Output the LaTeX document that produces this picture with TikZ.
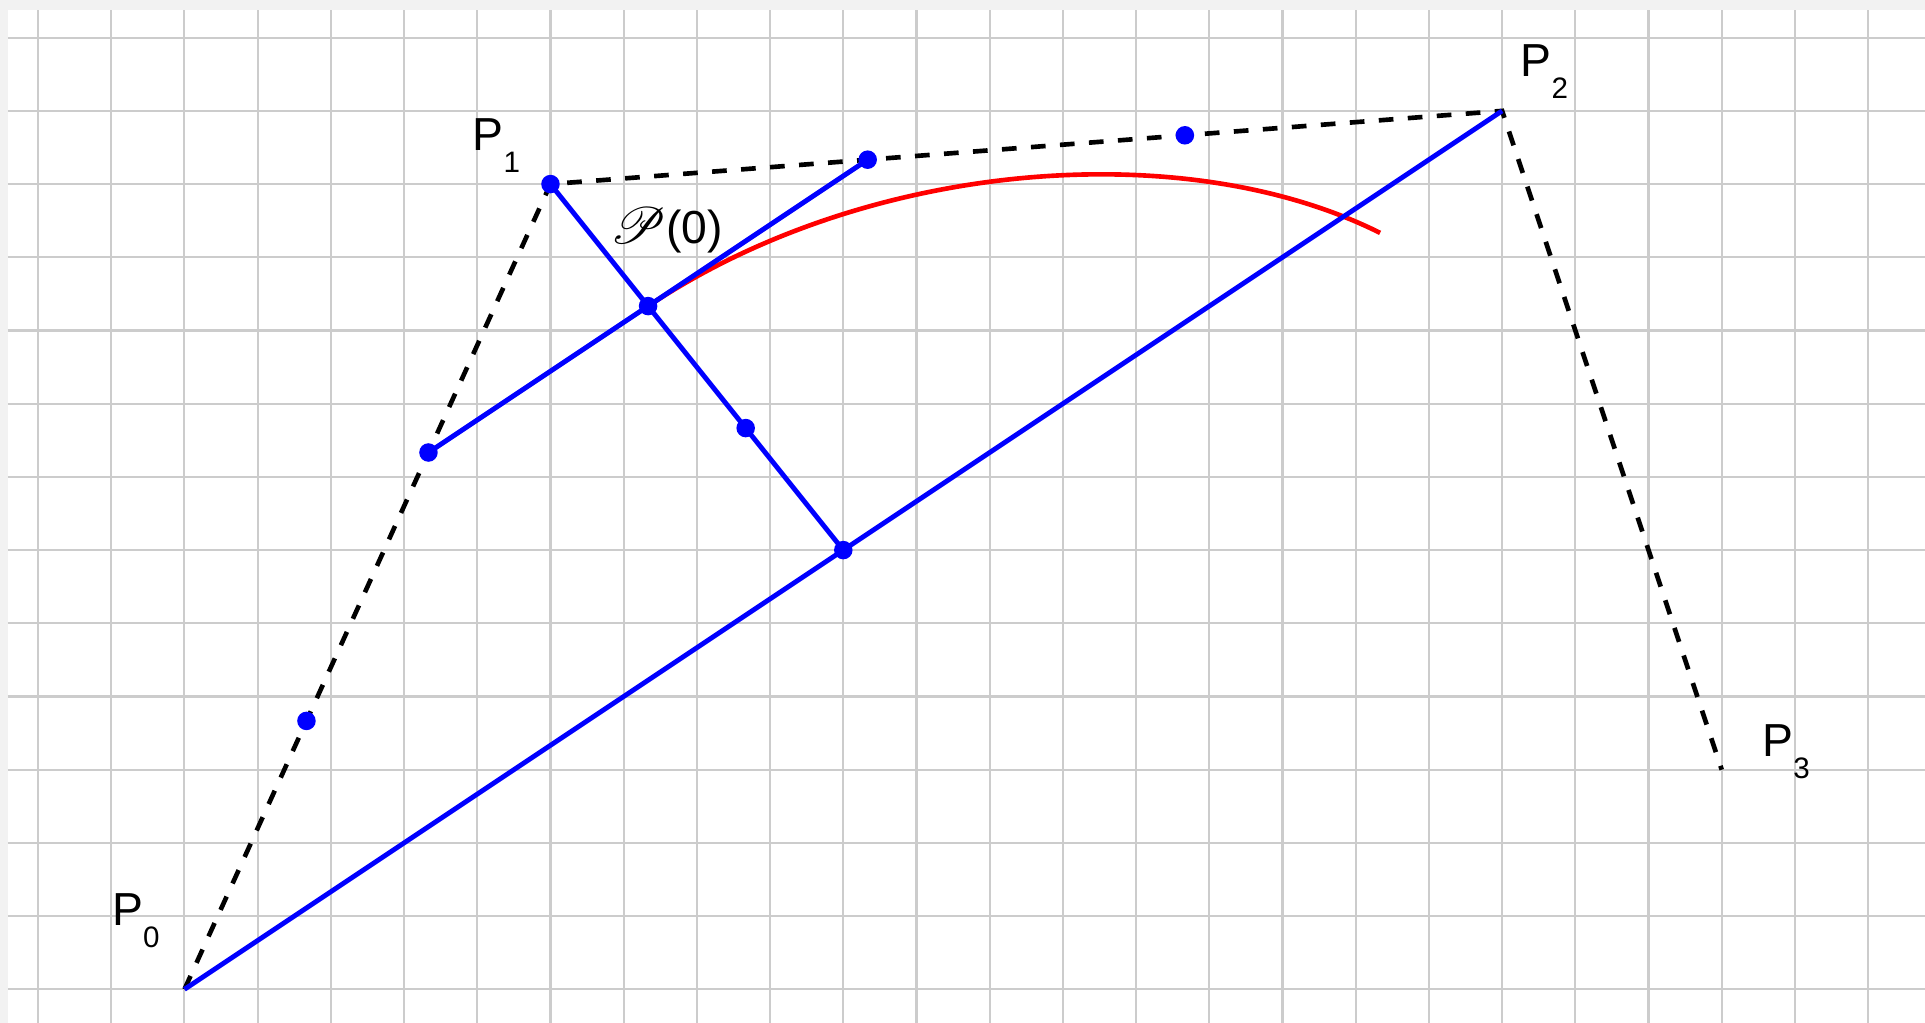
\documentclass[tikz,border=0pt]{standalone}
\usepackage{fontspec}
\setmainfont{Liberation Sans}
\usepackage{mathrsfs}
\usepackage{tikz}
\usetikzlibrary{calc}
\definecolor{gridcolor}{HTML}{CCCCCC}
\definecolor{bandcolor}{HTML}{F2F2F2}
\definecolor{consblue}{HTML}{0000FF}
\definecolor{splinered}{HTML}{FF0000}
\newcommand{\plbl}[1]{P\raisebox{-8.5pt}{\fontsize{11.5}{13}\selectfont #1}}

\begin{document}
\begin{tikzpicture}[
  gridline/.style={draw=gridcolor, line width=0.8pt},
  ctrl/.style={draw=black, line width=1.8pt, dash pattern=on 5.7pt off 5.6pt},
  cons/.style={draw=consblue, line width=1.9pt},
  spline/.style={draw=splinered, line width=1.8pt},
  dot/.style={circle, fill=consblue, inner sep=0pt, minimum size=7.2pt},
  lbl/.style={anchor=base west, inner sep=0pt, font=\fontsize{18}{20}\selectfont},
]
  % ── Canvas and grid ─────────────
  \useasboundingbox (-2.520,-0.460) rectangle (23.777,13.515);
  \fill[bandcolor] (-2.520,-0.460) rectangle (23.777,13.515);
  \fill[white] (-2.411,-0.460) rectangle (23.777,13.378);
  \foreach \x in {-2,...,23}
    \draw[gridline] (\x,-0.460) -- (\x,13.378);
  \foreach \y in {0,...,13}
    \draw[gridline] (-2.411,\y) -- (23.777,\y);

  % ── Control points ──────────────
  \coordinate (p0) at (0,0);
  \coordinate (p1) at (5,11);
  \coordinate (p2) at (18,12);
  \coordinate (p3) at (21,3);
  \coordinate (a1) at ($(p0)!1/3!(p1)$);
  \coordinate (a2) at ($(p0)!2/3!(p1)$);
  \coordinate (b1) at ($(p1)!1/3!(p2)$);
  \coordinate (b2) at ($(p1)!2/3!(p2)$);
  \coordinate (mid) at ($(p0)!1/2!(p2)$);
  \coordinate (c1) at ($(p1)!1/3!(mid)$);
  \coordinate (c2) at ($(p1)!2/3!(mid)$);
  \coordinate (cend) at (49/3,31/3);

  % ── Control polygon ─────────────
  \draw[ctrl] (p0) -- (p1) -- (p2) -- (p3);

  % ── Curve and construction ──────
  \draw[spline] (c1) .. controls (b1) and (b2) .. (cend);
  \draw[cons] (p0) -- (p2);
  \draw[cons] (p1) -- (mid);
  \draw[cons] (a2) -- (b1);

  \node[dot] (d1) at (a1) {};
  \node[dot] (d2) at (a2) {};
  \node[dot] (d3) at (p1) {};
  \node[dot] (d4) at (b1) {};
  \node[dot] (d5) at (b2) {};
  \node[dot] (d6) at (mid) {};
  \node[dot] (d7) at (c1) {};
  \node[dot] (d8) at (c2) {};

  % ── Labels ──────────────────────
  \node[lbl] (l0) at ($(p0)+(-0.995,0.865)$) {\plbl{0}};
  \node[lbl] (l1) at ($(p1)+(-1.07,0.455)$) {\plbl{1}};
  \node[lbl] (l2) at ($(p2)+(0.246,0.469)$) {\plbl{2}};
  \node[lbl] (l3) at ($(p3)+(0.55,0.178)$) {\plbl{3}};
  \node[lbl] (lc) at ($(c1)+(-0.52,0.85)$)
        {\scalebox{1.15}{$\mathscr{P}$}(0)};
\end{tikzpicture}
\end{document}
